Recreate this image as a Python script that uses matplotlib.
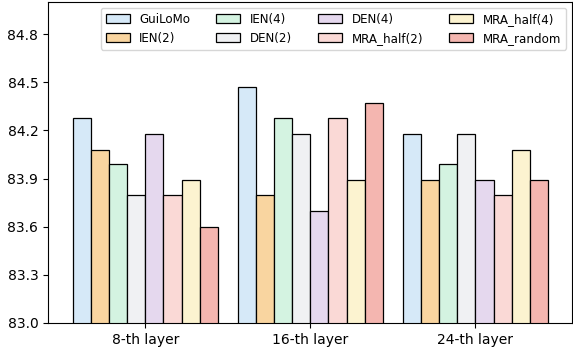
import numpy as np
import matplotlib.pyplot as plt

layers = ["8-th layer", "16-th layer", "24-th layer"]
methods = ["GuiLoMo", "IEN(2)", "IEN(4)", "DEN(2)", "DEN(4)",
           "MRA_half(2)", "MRA_half(4)", "MRA_random"]
scores = {
    "GuiLoMo":     [84.28, 84.47, 84.18],
    "IEN(2)":      [84.08, 83.80, 83.89],
    "IEN(4)":      [83.99, 84.28, 83.99],
    "DEN(2)":      [83.80, 84.18, 84.18],
    "DEN(4)":      [84.18, 83.70, 83.89],
    "MRA_half(2)": [83.80, 84.28, 83.80],
    "MRA_half(4)": [83.89, 83.89, 84.08],
    "MRA_random":  [83.60, 84.37, 83.89],
}
colors = ["#d6e9f8", "#f9d5a0", "#d4f3e1", "#f0f1f3",
          "#e5d8ee", "#fad9d6", "#fcf3d0", "#f4b6b0"]
yticks = [83.0, 83.3, 83.6, 83.9, 84.2, 84.5, 84.8]

fig = plt.figure(figsize=(5.73, 3.52), dpi=100)
ax = fig.add_axes([48/573, 1 - 323/352, 1 - 48/573 - 1/573, 321/352])

x = np.arange(len(layers))
w = 0.11
for i, m in enumerate(methods):
    off = (i - (len(methods) - 1) / 2) * w
    ax.bar(x + off, scores[m], w, bottom=0, color=colors[i],
           edgecolor="black", linewidth=0.9, label=m)

ax.set_ylim(83.0, 85.0)
ax.set_xlim(-0.589, 2.585)
ax.set_yticks(yticks)
ax.set_yticklabels([f"{v:.1f}" for v in yticks], fontsize=10)
ax.set_xticks(x)
ax.set_xticklabels(layers, fontsize=10)

ax.legend(ncol=4, loc="upper right", fontsize=8.6, frameon=True,
          columnspacing=2.2, handlelength=2.0, borderaxespad=0.5)

fig.savefig("out.png", dpi=100)
